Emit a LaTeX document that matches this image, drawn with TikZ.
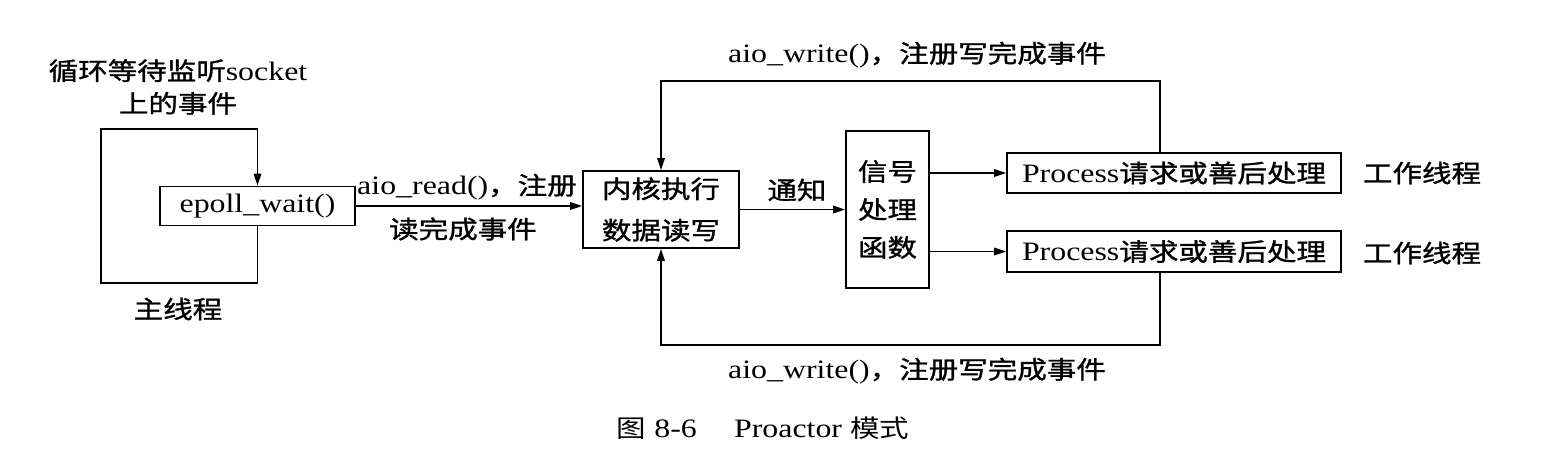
\documentclass[tikz,border=0pt]{standalone}
\usepackage{fontspec}
\setmainfont{Liberation Serif}[FakeStretch=1.2,Scale=1.08]
\newfontfamily\cjk{Noto Sans CJK SC}[FakeStretch=1.2,FakeBold=1.2]
\newfontfamily\cjkr{Noto Sans CJK SC}[FakeStretch=1.2]
\usetikzlibrary{arrows.meta}
\tikzset{
  box/.style={draw, line width=1pt, inner sep=0pt, font=\fontsize{14}{17.6}\selectfont, align=center},
  lbl/.style={inner sep=0pt, font=\fontsize{14}{17.6}\selectfont, align=center},
  conn/.style={line width=0.9pt, -{Triangle[length=2.4mm,width=1.5mm]}},
}
\begin{document}
\begin{tikzpicture}[x=0.02cm,y=-0.02cm]
\useasboundingbox (0,0) rectangle (1561,466);
% nodes
\node[box, minimum width=3.9cm, minimum height=0.78cm] (epoll) at (257.5,206) {epoll\_wait()};
\node[box, minimum width=3.12cm, minimum height=1.54cm] (kernel) at (661,209.5) {{\cjk 内核执行}\\[6pt]{\cjk 数据读写}};
\node[box, minimum width=1.66cm, minimum height=3.14cm] (signal) at (887.5,209.5) {{\cjk 信号}\\[4pt]{\cjk 处理}\\[4pt]{\cjk 函数}};
\node[box, minimum width=6.68cm, minimum height=0.8cm] (p1) at (1174,173) {Process{\cjk 请求或善后处理}};
\node[box, minimum width=6.68cm, minimum height=0.82cm] (p2) at (1174,251.5) {Process{\cjk 请求或善后处理}};
% labels
\node[lbl] (loopl) at (178,87) {{\cjk 循环等待监听}socket\\[1pt]{\cjk 上的事件}};
\node[lbl] (mainl) at (178,309) {\cjk 主线程};
\node[lbl] (readl1) at (467,187) {aio\_read(){\cjk ，注册}};
\node[lbl] (readl2) at (463,229) {\cjk 读完成事件};
\node[lbl] (notify) at (797,190) {\cjk 通知};
\node[lbl] (topl) at (917,55) {aio\_write(){\cjk ，注册写完成事件}};
\node[lbl] (botl) at (917,371) {aio\_write(){\cjk ，注册写完成事件}};
\node[lbl] (w1) at (1422,173) {\cjk 工作线程};
\node[lbl] (w2) at (1422,253) {\cjk 工作线程};
\node[lbl] (cap) at (763,428) {{\cjkr 图} 8-6\hspace{1.4em}Proactor {\cjkr 模式}};
% coordinates
\coordinate (p1t) at (1160,153);
\coordinate (p2b) at (1160,272);
% connectors
\draw[conn] (epoll.east) -- (epoll.east -| kernel.west);
\draw[conn] (kernel.east) -- (signal.west);
\draw[conn] (signal.east |- p1.west) -- (p1.west);
\draw[conn] (signal.east |- p2.west) -- (p2.west);
\draw[conn] (p1t) -- (1160,81) -| (kernel.north);
\draw[conn] (p2b) -- (1160,345) -| (kernel.south);
\draw[conn] (epoll.south) -- (257.5,283) -| (101,129) -| (epoll.north);
\end{tikzpicture}
\end{document}
